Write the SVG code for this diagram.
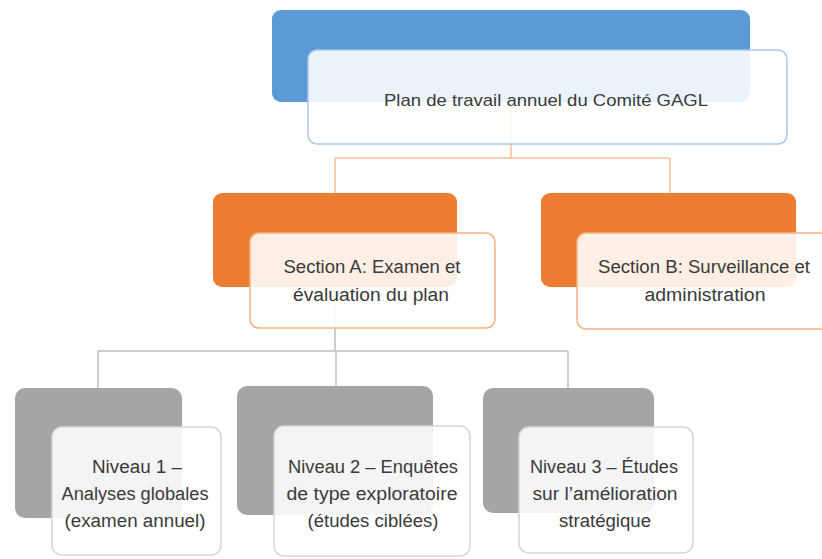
<svg xmlns="http://www.w3.org/2000/svg" width="822" height="559" viewBox="0 0 822 559">
<style>
.bg{fill:#fff}
.bk-blue{fill:#5B9BD5}
.bk-orange{fill:#ED7D31}
.bk-grey{fill:#A5A5A5}
.fr{fill:#fff;fill-opacity:0.88;stroke-width:1.5}
.fr-blue{stroke:#A9C8EA}
.fr-orange{stroke:#F4B183}
.fr-grey{stroke:#D6D6D6}
.c-orange{stroke:#F6BE98;stroke-width:1.5;fill:none}
.c-grey{stroke:#BDBDBD;stroke-width:1.5;fill:none}
text{font-family:"Liberation Sans",Arial,sans-serif;fill:#3a3a3a;text-anchor:middle;font-size:18px}
.t{font-size:17px}
</style>
<rect class="bg" x="0" y="0" width="822" height="559"/>
<g id="connectors">
<path class="c-orange" d="M511 100 V158 M335 158 H670 M335 158 V193 M670 158 V193"/>
<path class="c-grey" d="M335 290 V351 M98 351 H568 M98 351 V388 M336 351 V386 M568 351 V388"/>
</g>
<g id="node-root">
<rect class="bk-blue" x="272" y="10" width="478" height="92" rx="9"/>
<rect class="fr fr-blue" x="308" y="50" width="479" height="94" rx="9"/>
<text class="t" x="546" y="106" textLength="324" lengthAdjust="spacingAndGlyphs">Plan de travail annuel du Comité GAGL</text>
</g>
<g id="node-sectionA">
<rect class="bk-orange" x="213" y="193" width="244" height="94" rx="9"/>
<rect class="fr fr-orange" x="250" y="233" width="245" height="95" rx="9"/>
<text x="372" y="273" textLength="177" lengthAdjust="spacingAndGlyphs">Section A: Examen et</text>
<text x="371" y="301" textLength="156" lengthAdjust="spacingAndGlyphs">évaluation du plan</text>
</g>
<g id="node-sectionB">
<rect class="bk-orange" x="541" y="193" width="255" height="94" rx="9"/>
<rect class="fr fr-orange" x="577" y="233" width="260" height="96" rx="9"/>
<text x="704" y="273" textLength="212" lengthAdjust="spacingAndGlyphs">Section B: Surveillance et</text>
<text x="705" y="301" textLength="121" lengthAdjust="spacingAndGlyphs">administration</text>
</g>
<g id="node-niveau1">
<rect class="bk-grey" x="15" y="388" width="167" height="130" rx="10"/>
<rect class="fr fr-grey" x="52" y="427" width="169" height="128" rx="10"/>
<text x="137" y="473" textLength="90" lengthAdjust="spacingAndGlyphs">Niveau 1 –</text>
<text x="135" y="500" textLength="147" lengthAdjust="spacingAndGlyphs">Analyses globales</text>
<text x="135" y="527" textLength="141" lengthAdjust="spacingAndGlyphs">(examen annuel)</text>
</g>
<g id="node-niveau2">
<rect class="bk-grey" x="237" y="386" width="196" height="129" rx="10"/>
<rect class="fr fr-grey" x="274" y="426" width="196" height="130" rx="10"/>
<text x="373" y="473" textLength="170" lengthAdjust="spacingAndGlyphs">Niveau 2 – Enquêtes</text>
<text x="372" y="500" textLength="171" lengthAdjust="spacingAndGlyphs">de type exploratoire</text>
<text x="373" y="527" textLength="131" lengthAdjust="spacingAndGlyphs">(études ciblées)</text>
</g>
<g id="node-niveau3">
<rect class="bk-grey" x="483" y="388" width="171" height="125" rx="10"/>
<rect class="fr fr-grey" x="519" y="427" width="174" height="126" rx="10"/>
<text x="604" y="473" textLength="148" lengthAdjust="spacingAndGlyphs">Niveau 3 – Études</text>
<text x="605" y="500" textLength="145" lengthAdjust="spacingAndGlyphs">sur l’amélioration</text>
<text x="605" y="527" textLength="92" lengthAdjust="spacingAndGlyphs">stratégique</text>
</g>
</svg>
